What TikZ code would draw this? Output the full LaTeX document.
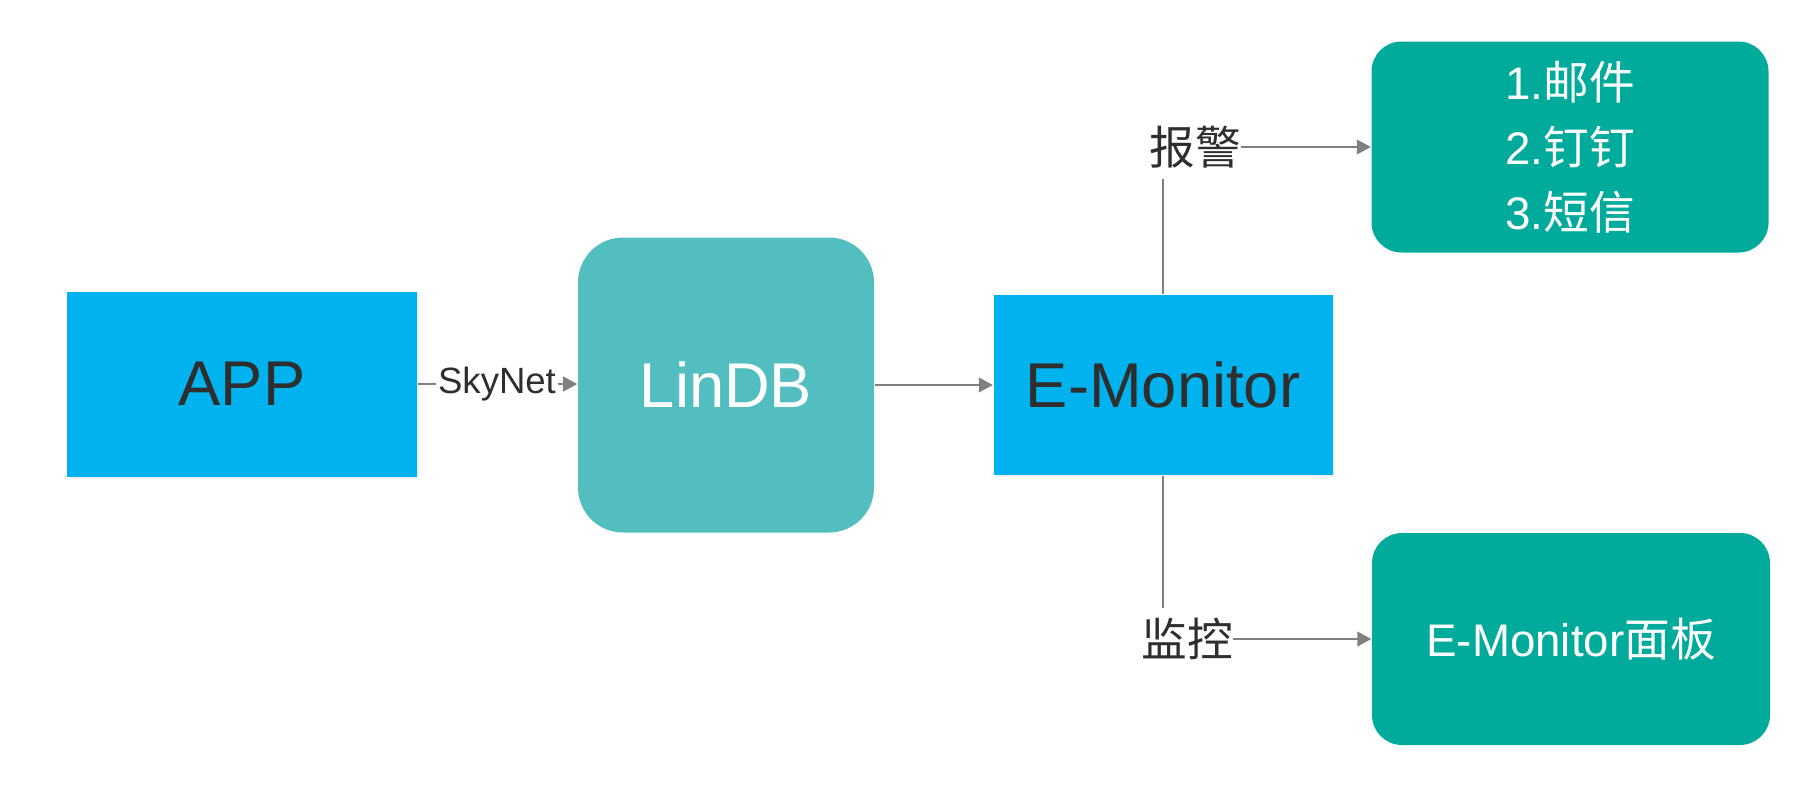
\documentclass[tikz,border=0pt]{standalone}
\usepackage{fontspec}
\setmainfont{Liberation Sans}
\newfontfamily\cjk{Noto Sans CJK SC}
\usetikzlibrary{arrows.meta,shadows}
\definecolor{appblue}{HTML}{00B3EE}
\definecolor{dbteal}{HTML}{52BEC0}
\definecolor{outgreen}{HTML}{00AB9B}
\definecolor{linegray}{HTML}{808080}
\definecolor{textdark}{HTML}{2E2E2E}
\begin{document}
\begin{tikzpicture}[
    bluebox/.style={rectangle, fill=appblue, text=textdark, inner sep=0pt,
        font=\fontsize{18}{21}\selectfont,
        drop shadow={shadow xshift=0.6pt, shadow yshift=-0.6pt, opacity=0.12}},
    dbbox/.style={rectangle, rounded corners=0.45cm, fill=dbteal, text=white,
        inner sep=0pt, font=\fontsize{18}{21}\selectfont},
    outbox/.style={rectangle, rounded corners=0.3cm, fill=outgreen, text=white,
        inner sep=0pt, align=center, font=\fontsize{13}{18.5}\selectfont},
    tag/.style={inner xsep=0pt, inner ysep=2.8pt, text=textdark,
        font=\fontsize{13}{15}\selectfont\cjk},
    link/.style={draw=linegray, line width=0.45pt},
    flow/.style={link, -{Triangle[length=4pt, width=4.2pt]}}
]
\useasboundingbox (0,0) rectangle (18.16,7.84);

\node[bluebox, minimum width=3.50cm, minimum height=1.85cm] (app)   at (2.42,4.00)  {APP};
\node[dbbox,   minimum width=2.96cm, minimum height=2.95cm] (lindb) at (7.26,3.99)  {LinDB};
\node[bluebox, minimum width=3.39cm, minimum height=1.80cm] (emon)  at (11.63,3.99) {E-Monitor};

\node[outbox, minimum width=3.97cm, minimum height=2.11cm] (notify) at (15.70,6.37)
    {1.{\cjk 邮件}\\ 2.{\cjk 钉钉}\\ 3.{\cjk 短信}};
\node[outbox, minimum width=3.98cm, minimum height=2.12cm] (panel)  at (15.71,1.45)
    {E-Monitor{\cjk 面板}};

% labels on the connectors
\node[inner sep=0.3pt, text=textdark, font=\fontsize{10.4}{12}\selectfont] (skynet) at (4.97,4.00) {SkyNet};
\node[tag] (alarm)   at (11.95,6.37) {报警};
\node[tag] (monitor) at (11.87,1.45) {监控};

\draw[link] (app) -- (skynet);
\draw[flow] (skynet) -- (skynet -| lindb.west);
\draw[flow] (lindb) -- (emon);

\draw[link] (emon.north) -- (emon.north |- alarm.south);
\draw[flow] (alarm) -- (notify);
\draw[link] (emon.south) -- (emon.south |- monitor.north);
\draw[flow] (monitor) -- (panel);

\end{tikzpicture}
\end{document}
